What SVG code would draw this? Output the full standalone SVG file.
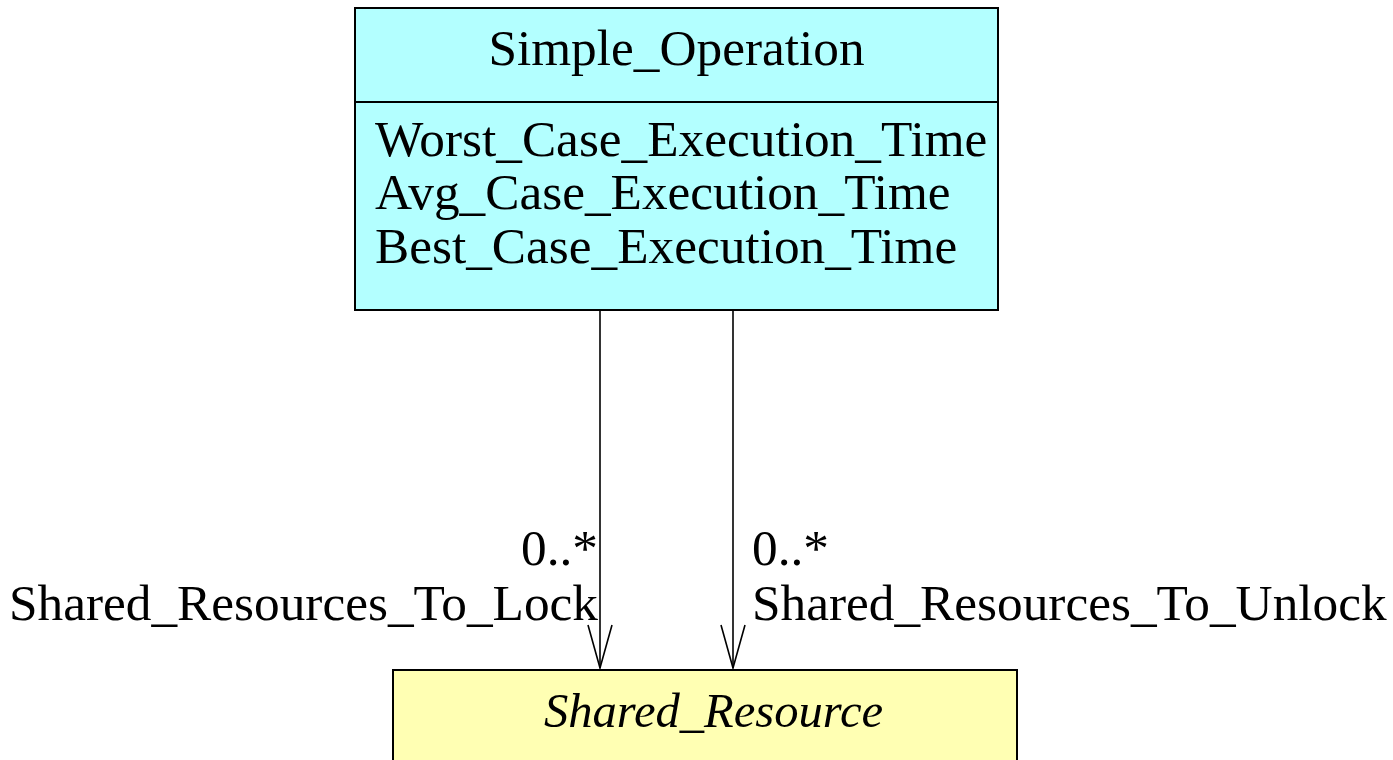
<svg xmlns="http://www.w3.org/2000/svg" width="1393" height="760" viewBox="0 0 1393 760">
<style>
  text { font-family: "Liberation Serif", "Times New Roman", serif; font-size: 51.3px; fill: #000; }
  .it { font-style: italic; font-size: 48.6px; }
  .box { stroke: #000; stroke-width: 2; }
  .conn { stroke: #000; stroke-width: 1.6; fill: none; }
</style>
<rect width="1393" height="760" fill="#fff"/>
<g id="simple_operation">
  <rect class="box" x="355" y="8" width="643" height="302" fill="#b3ffff"/>
  <line class="box" x1="355" y1="102" x2="998" y2="102"/>
  <text x="676.5" y="65" text-anchor="middle">Simple_Operation</text>
  <text x="375" y="156">Worst_Case_Execution_Time</text>
  <text x="375" y="209">Avg_Case_Execution_Time</text>
  <text x="375" y="263">Best_Case_Execution_Time</text>
</g>
<g id="shared_resource">
  <rect class="box" x="393" y="670" width="624" height="110" fill="#ffffb3"/>
  <text class="it" x="713.5" y="727" text-anchor="middle">Shared_Resource</text>
</g>
<g id="connectors">
  <line class="conn" x1="600" y1="310" x2="600" y2="668"/>
  <polyline class="conn" points="588,625 600,668 612,625"/>
  <line class="conn" x1="733" y1="310" x2="733" y2="668"/>
  <polyline class="conn" points="721,625 733,668 745,625"/>
  <text x="598" y="565" text-anchor="end">0..*</text>
  <text x="598" y="620" text-anchor="end">Shared_Resources_To_Lock</text>
  <text x="752" y="565">0..*</text>
  <text x="752" y="620">Shared_Resources_To_Unlock</text>
</g>
</svg>
